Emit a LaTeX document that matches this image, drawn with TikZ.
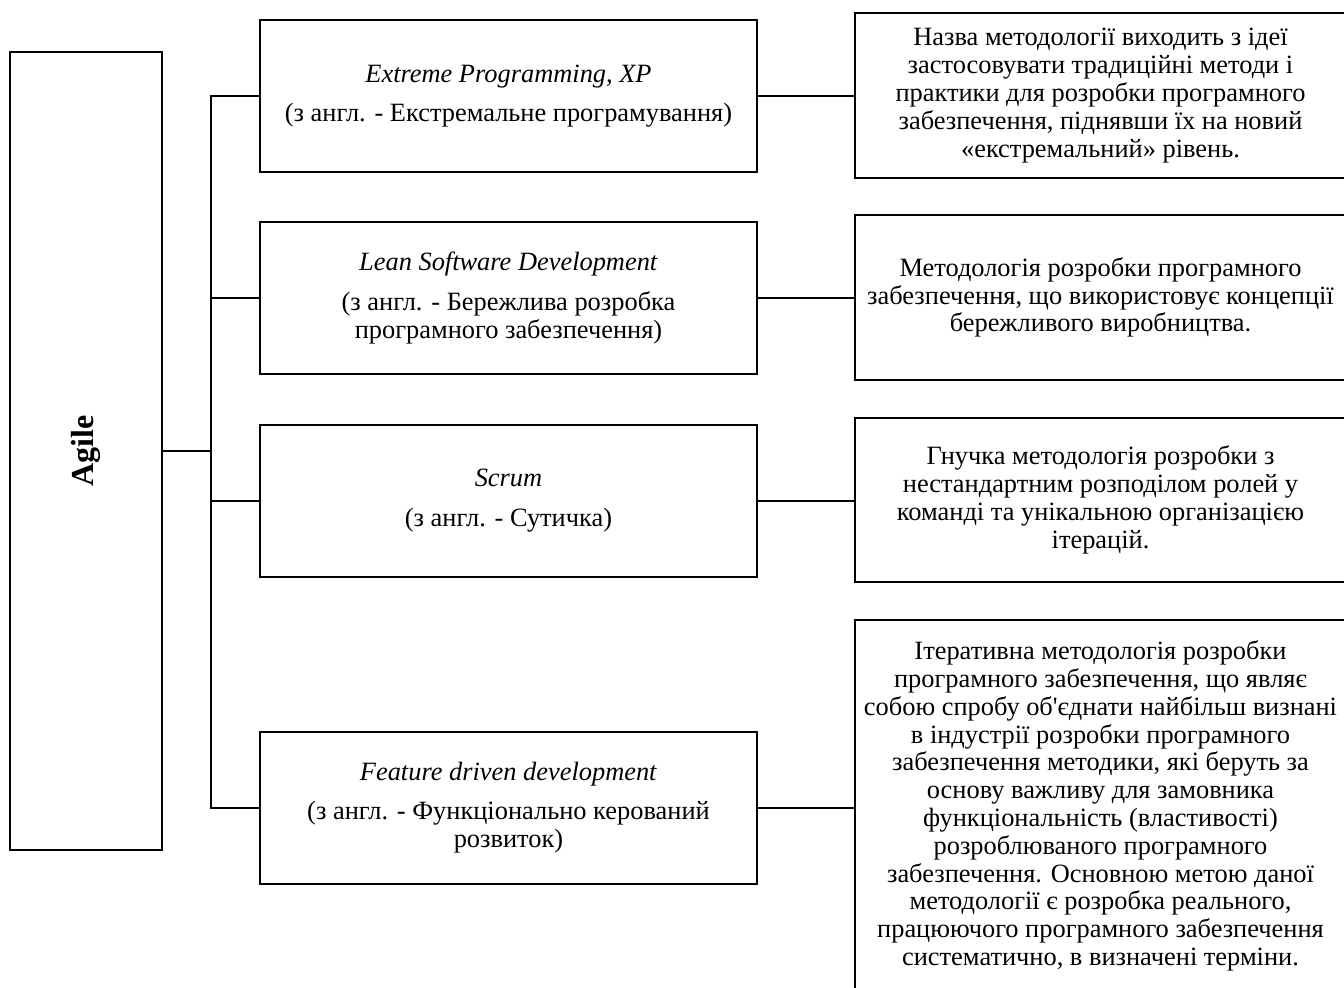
\documentclass[tikz,border=0pt]{standalone}
\usepackage{fontspec}
\setmainfont{Liberation Serif}
\usepackage{graphicx}
\usepackage{tikz}
\usetikzlibrary{positioning,calc}
\tikzset{
  frame/.style={rectangle, draw=black, line width=1pt, fill=white,
    inner sep=2pt, align=center,
    font=\fontsize{13.2}{13.9}\selectfont},
  methbox/.style={frame, minimum width=248.5pt, minimum height=76pt},
  descbox/.style={frame, minimum width=245.5pt, minimum height=#1},
  descbox/.default=82.5pt,
  link/.style={line width=1pt, draw=black}
}

\begin{document}
\begin{tikzpicture}[x=0.5pt, y=-0.5pt]
  \useasboundingbox (0,0) rectangle (1344,987);
  \clip (0,0) rectangle (1344,987);

  % root
  \node[frame, minimum width=76pt, minimum height=399pt,
        font=\fontsize{16}{18}\selectfont\bfseries] (agile) at (86,451)
        {\rotatebox{90}{Agile}};

  % methodologies
  \node[methbox] (xp)    at (508.5,96)
    {\textit{Extreme Programming, XP}\\[6pt]
     (з англ. - Екстремальне програмування)};
  \node[methbox] (lean)  at (508.5,298)
    {\textit{Lean Software Development}\\[6pt]
     (з англ. - Бережлива розробка\\програмного забезпечення)};
  \node[methbox] (scrum) at (508.5,500.5)
    {\textit{Scrum}\\[6pt]
     (з англ. - Сутичка)};
  \node[methbox] (fdd)   at (508.5,807.5)
    {\textit{Feature driven development}\\[6pt]
     (з англ. - Функціонально керований\\розвиток)};

  % descriptions
  \node[descbox] (xpd)    at (1100.5,95.5)
    {Назва методології виходить з ідеї\\
     застосовувати традиційні методи і\\
     практики для розробки програмного\\
     забезпечення, піднявши їх на новий\\
     «екстремальний» рівень.};
  \node[descbox] (leand)  at (1100.5,297.5)
    {Методологія розробки програмного\\
     забезпечення, що використовує концепції\\
     бережливого виробництва.};
  \node[descbox=82pt] (scrumd) at (1100.5,500)
    {Гнучка методологія розробки з\\
     нестандартним розподілом ролей у\\
     команді та унікальною організацією\\
     ітерацій.};
  \node[descbox=186pt] (fddd) at (1100.5,806)
    {Ітеративна методологія розробки\\
     програмного забезпечення, що являє\\
     собою спробу об\textquotesingle єднати найбільш визнані\\
     в індустрії розробки програмного\\
     забезпечення методики, які беруть за\\
     основу важливу для замовника\\
     функціональність (властивості)\\
     розроблюваного програмного\\
     забезпечення. Основною метою даної\\
     методології є розробка реального,\\
     працюючого програмного забезпечення\\
     систематично, в визначені терміни.};

  % tree connectors
  \coordinate (jn) at (211,451);
  \draw[link] (agile.east) -- (jn);
  \draw[link] (xp.west) -- (xp.west -| jn) -- (fdd.west -| jn) -- (fdd.west);
  \draw[link] (lean.west) -- (lean.west -| jn);
  \draw[link] (scrum.west) -- (scrum.west -| jn);

  \draw[link] (xp.east)    -- (xp.east -| xpd.west);
  \draw[link] (lean.east)  -- (lean.east -| leand.west);
  \draw[link] (scrum.east) -- (scrum.east -| scrumd.west);
  \draw[link] (fdd.east)   -- (fdd.east -| fddd.west);
\end{tikzpicture}
\end{document}
